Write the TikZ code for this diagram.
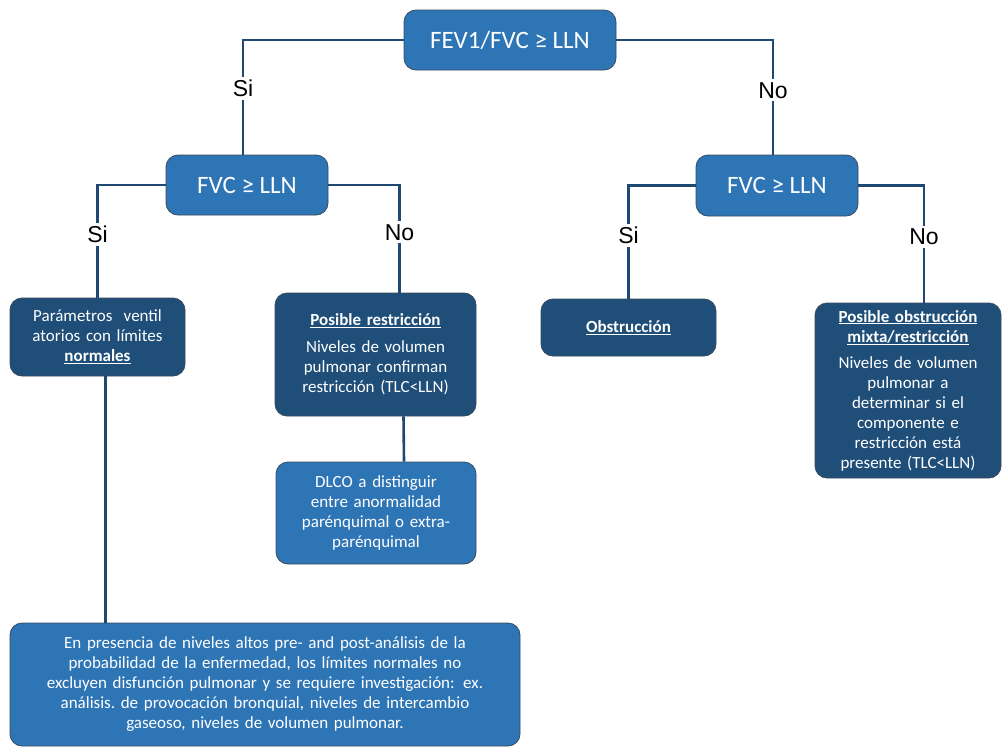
\documentclass[tikz,border=0pt]{standalone}
\usepackage{fontspec}
\setmainfont{Carlito}
\newfontfamily\labelfont{Liberation Sans}
\definecolor{lightblue}{RGB}{46,117,182}
\definecolor{darkblue}{RGB}{31,78,121}
\definecolor{linkblue}{RGB}{31,73,115}
\definecolor{boxedge}{RGB}{55,75,95}
\begin{document}
\begin{tikzpicture}[x=1pt,y=-1pt,
  box/.style={draw=boxedge, line width=0.8pt, rounded corners=12pt, text=white,
    align=center, inner sep=0pt, font=\fontsize{17}{20}\selectfont},
  light/.style={box, fill=lightblue},
  dark/.style={box, fill=darkblue},
  question/.style={light, font=\fontsize{25}{28}\selectfont},
  link/.style={draw=linkblue, line width=2.6pt},
  branch/.style={fill=white, text=black, inner sep=3pt,
    font=\labelfont\fontsize{23}{26}\selectfont}
]
\useasboundingbox (0,0) rectangle (1002,747);

% decision boxes
\node[question, minimum width=212pt, minimum height=60pt] (root) at (510,40) {FEV1/FVC ≥ LLN};
\node[question, minimum width=162pt, minimum height=60pt] (fvcL) at (247,185) {FVC ≥ LLN};
\node[question, minimum width=162pt, minimum height=61pt] (fvcR) at (777,185.5) {FVC ≥ LLN};

% outcome boxes
\node[dark, minimum width=175pt, minimum height=78pt, text width=170pt] (param) at (97.5,337)
  {Parámetros\ \ ventil\\atorios con límites\\\textbf{\underline{normales}}};
\node[dark, minimum width=201pt, minimum height=123pt, text width=195pt] (restr) at (375.5,354.5)
  {\textbf{\underline{Posible restricción}}\\[7pt]Niveles de volumen\\pulmonar confirman\\restricción (TLC<LLN)};
\node[light, minimum width=200pt, minimum height=102pt, text width=195pt] (dlco) at (376,513)
  {DLCO a distinguir\\entre anormalidad\\parénquimal o extra-\\parénquimal};
\node[dark, minimum width=175pt, minimum height=57pt, text width=170pt] (obst) at (628.5,327.5)
  {\textbf{\underline{Obstrucción}}};
\node[dark, minimum width=186pt, minimum height=175pt, text width=184pt] (mixed) at (908,390.5)
  {\textbf{\underline{Posible obstrucción}}\\\textbf{\underline{mixta/restricción}}\\[6pt]Niveles de volumen\\pulmonar a\\determinar si el\\componente e\\restricción está\\presente (TLC<LLN)};
\node[light, minimum width=510pt, minimum height=123pt, text width=505pt] (bottom) at (265,684.5)
  {En presencia de niveles altos pre- and post-análisis de la\\probabilidad de la enfermedad, los límites normales no\\excluyen disfunción pulmonar y se requiere investigación: ex.\\análisis.\ de provocación bronquial, niveles de intercambio\\gaseoso, niveles de volumen pulmonar.};

% connectors
\draw[link] (root.west) -| ([xshift=-4pt]fvcL.north) node[branch, pos=0.71] {Si};
\draw[link] (root.east) -| ([xshift=-4pt]fvcR.north) node[branch, pos=0.72] {No};
\draw[link] (fvcL.west) -| (param.north) node[branch, pos=0.72] {Si};
\draw[link] (fvcL.east) -| ([xshift=24pt]restr.north) node[branch, pos=0.72] {No};
\draw[link] (fvcR.west) -| (obst.north) node[branch, pos=0.72] {Si};
\draw[link] (fvcR.east) -| ([xshift=16pt]mixed.north) node[branch, pos=0.72] {No};
\draw[link] ([xshift=28pt]restr.south) -- ([xshift=28pt]dlco.north);
\draw[link] ([xshift=8pt]param.south) -- ([xshift=8pt]param.south |- bottom.north);
\end{tikzpicture}
\end{document}
